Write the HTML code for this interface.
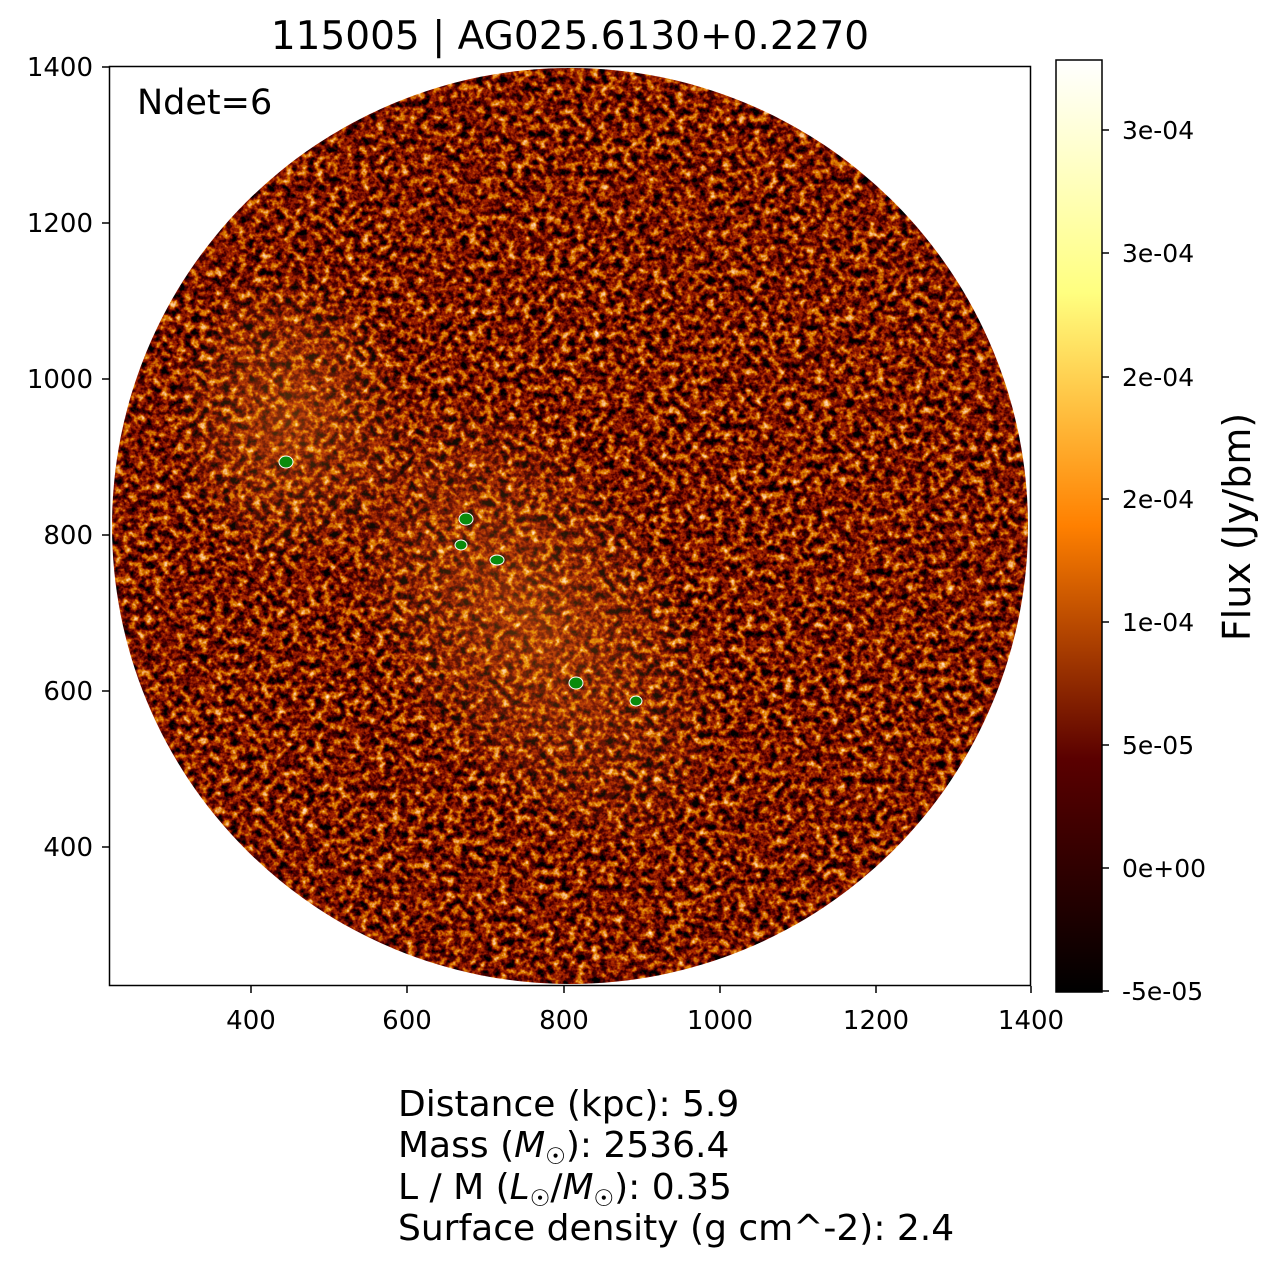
<!DOCTYPE html>
<html><head><meta charset="utf-8"><style>
body{margin:0;background:#fff;width:1274px;height:1267px;overflow:hidden;font-family:"Liberation Sans","DejaVu Sans",sans-serif}
</style></head><body>
<svg width="1274" height="1267" viewBox="0 0 1274 1267" xmlns="http://www.w3.org/2000/svg" font-family="DejaVu Sans, Liberation Sans, sans-serif">
<defs>
<filter id="noise" x="0" y="0" width="100%" height="100%">
<feTurbulence type="fractalNoise" baseFrequency="0.13" numOctaves="3" seed="7" result="t"/>
<feColorMatrix in="t" type="matrix" values="1 0 0 0 0 1 0 0 0 0 1 0 0 0 0 0 0 0 0 1" result="g"/>
<feComponentTransfer in="g">
<feFuncR type="table" tableValues="0 0 0 0.08 0.4 0.8 1 1"/>
<feFuncG type="table" tableValues="0 0 0 0 0.02 0.25 0.6 1"/>
<feFuncB type="table" tableValues="0 0 0 0 0 0 0.3 1"/>
<feFuncA type="table" tableValues="1 1"/>
</feComponentTransfer>
</filter>
<clipPath id="c"><circle cx="570" cy="526" r="458"/></clipPath>
<radialGradient id="band" cx="0.5" cy="0.5" r="0.5">
<stop offset="0" stop-color="#ff8a20" stop-opacity="0.35"/><stop offset="1" stop-color="#ff8a20" stop-opacity="0"/></radialGradient>
<linearGradient id="cb" x1="0" y1="1" x2="0" y2="0">
<stop offset="0" stop-color="#000"/><stop offset="0.25" stop-color="#5a0000"/>
<stop offset="0.5" stop-color="#ff8000"/><stop offset="0.75" stop-color="#ffff80"/>
<stop offset="1" stop-color="#fff"/></linearGradient>
</defs>
<text x="570" y="49" font-size="39" text-anchor="middle">115005 | AG025.6130+0.2270</text>
<g clip-path="url(#c)">
<rect x="112" y="68" width="917" height="917" fill="#3a0a00" filter="url(#noise)"/>
<ellipse cx="530" cy="620" rx="150" ry="260" transform="rotate(-35 530 620)" fill="url(#band)" style="mix-blend-mode:screen"/>
<ellipse cx="290" cy="420" rx="120" ry="150" fill="url(#band)" style="mix-blend-mode:screen"/>
</g>
<rect x="109.5" y="66.5" width="921" height="919" fill="none" stroke="#000" stroke-width="1.5"/>
<text x="137" y="114" font-size="35">Ndet=6</text>
<g fill="#0a8a0a" stroke="#fff" stroke-width="1">
<ellipse cx="286" cy="462" rx="7" ry="6"/><ellipse cx="466" cy="519" rx="7" ry="6"/>
<ellipse cx="461" cy="545" rx="6" ry="5"/><ellipse cx="497" cy="560" rx="7" ry="5"/>
<ellipse cx="576" cy="683" rx="7" ry="6"/><ellipse cx="636" cy="701" rx="6" ry="5"/>
</g>
<g font-size="26" text-anchor="middle">
<g stroke="#000" stroke-width="1.5">
<line x1="251" y1="986" x2="251" y2="993"/><line x1="407" y1="986" x2="407" y2="993"/>
<line x1="564" y1="986" x2="564" y2="993"/><line x1="720" y1="986" x2="720" y2="993"/>
<line x1="876" y1="986" x2="876" y2="993"/><line x1="1031" y1="986" x2="1031" y2="993"/>
<line x1="102" y1="67" x2="109" y2="67"/><line x1="102" y1="223" x2="109" y2="223"/>
<line x1="102" y1="379" x2="109" y2="379"/><line x1="102" y1="535" x2="109" y2="535"/>
<line x1="102" y1="691" x2="109" y2="691"/><line x1="102" y1="847" x2="109" y2="847"/>
</g>
<text x="251" y="1029">400</text><text x="407" y="1029">600</text><text x="564" y="1029">800</text>
<text x="720" y="1029">1000</text><text x="876" y="1029">1200</text><text x="1031" y="1029">1400</text>
</g>
<g font-size="26" text-anchor="end">
<text x="93" y="76">1400</text><text x="93" y="232">1200</text><text x="93" y="388">1000</text>
<text x="93" y="544">800</text><text x="93" y="700">600</text><text x="93" y="856">400</text>
</g>
<rect x="1056" y="60" width="46" height="932" fill="url(#cb)" stroke="#000" stroke-width="1.5"/>
<g stroke="#000" stroke-width="1.5">
<line x1="1102" y1="130" x2="1109" y2="130"/><line x1="1102" y1="253" x2="1109" y2="253"/>
<line x1="1102" y1="377" x2="1109" y2="377"/><line x1="1102" y1="499" x2="1109" y2="499"/>
<line x1="1102" y1="622" x2="1109" y2="622"/><line x1="1102" y1="745" x2="1109" y2="745"/>
<line x1="1102" y1="868" x2="1109" y2="868"/><line x1="1102" y1="991" x2="1109" y2="991"/>
</g>
<g font-size="25">
<text x="1122" y="139">3e-04</text><text x="1122" y="262">3e-04</text><text x="1122" y="386">2e-04</text>
<text x="1122" y="508">2e-04</text><text x="1122" y="631">1e-04</text><text x="1122" y="754">5e-05</text>
<text x="1122" y="877">0e+00</text><text x="1122" y="1000">-5e-05</text>
</g>
<text transform="translate(1250,527) rotate(-90)" font-size="38" text-anchor="middle">Flux (Jy/bm)</text>
<g font-size="36">
<text x="398" y="1116">Distance (kpc): 5.9</text>
<text x="398" y="1157">Mass (<tspan font-style="italic">M</tspan><tspan font-size="23" dy="7">☉</tspan><tspan dy="-7">): 2536.4</tspan></text>
<text x="398" y="1199">L / M (<tspan font-style="italic">L</tspan><tspan font-size="23" dy="7">☉</tspan><tspan dy="-7">/</tspan><tspan font-style="italic">M</tspan><tspan font-size="23" dy="7">☉</tspan><tspan dy="-7">): 0.35</tspan></text>
<text x="398" y="1240">Surface density (g cm^-2): 2.4</text>
</g>
</svg>
</body></html>
